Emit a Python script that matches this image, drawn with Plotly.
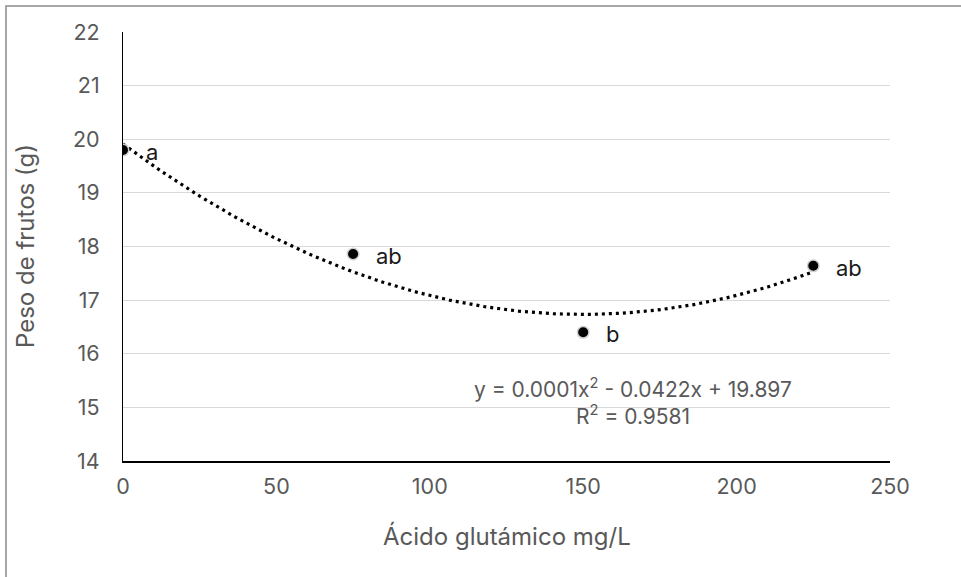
import numpy as np
import plotly.graph_objects as go

# Glutamic acid dose (mg/L) and mean fruit weight (g)
dose = [0, 75, 150, 225]
peso = [19.80, 17.86, 16.40, 17.64]
letras = ["a", "ab", "b", "ab"]

x_ticks = [0, 50, 100, 150, 200, 250]
y_ticks = [14, 15, 16, 17, 18, 19, 20, 21, 22]

ecuacion = "y = 0.0001x<sup>2</sup> - 0.0422x + 19.897"
r2_texto = "R<sup>2</sup> = 0.9581"

# Second-order polynomial trendline fitted to the means
coef = np.polyfit(dose, peso, 2)
xs = np.linspace(min(dose), max(dose), 200)
ys = np.polyval(coef, xs)

FONT = "Inter, 'Open Sans', sans-serif"
GRAY = "#595959"

# plot area in pixels
L, R, T, B = 123, 890, 32, 461
W, H = R - L, B - T

fig = go.Figure()
fig.add_trace(go.Scatter(
    x=xs, y=ys, mode="lines",
    line=dict(color="black", width=3.2, dash="3px,4px"),
    hoverinfo="skip", showlegend=False,
))
fig.add_trace(go.Scatter(
    x=dose, y=peso, mode="markers",
    marker=dict(color="black", size=11.5, line=dict(color="#cfcfcf", width=1.5)),
    showlegend=False,
))

for xv, yv, t in zip(dose, peso, letras):
    fig.add_annotation(
        x=xv, y=yv, text=t, showarrow=False,
        xanchor="left", yanchor="middle", xshift=21, yshift=-2,
        font=dict(family=FONT, size=22, color="#1a1a1a"),
    )

fig.add_annotation(
    x=(633 - L) / W, y=(B - 388) / H, xref="paper", yref="paper", text=ecuacion,
    showarrow=False, xanchor="center", yanchor="middle",
    font=dict(family=FONT, size=21, color=GRAY),
)
fig.add_annotation(
    x=(633 - L) / W, y=(B - 415) / H, xref="paper", yref="paper", text=r2_texto,
    showarrow=False, xanchor="center", yanchor="middle",
    font=dict(family=FONT, size=21, color=GRAY),
)

# axis titles
fig.add_annotation(
    x=0.5, y=(B - 536) / H, xref="paper", yref="paper", text="Ácido glutámico mg/L",
    showarrow=False, xanchor="center", yanchor="middle",
    font=dict(family=FONT, size=24, color=GRAY),
)
fig.add_annotation(
    x=(25 - L) / W, y=(B - 246) / H, xref="paper", yref="paper", text="Peso de frutos (g)",
    showarrow=False, xanchor="center", yanchor="middle", textangle=-90,
    font=dict(family=FONT, size=24, color=GRAY),
)

# Outer frame of the chart area
fig.add_shape(
    type="rect", xref="paper", yref="paper",
    x0=(6 - L) / W, x1=(975 - L) / W,
    y0=(B - 600) / H, y1=(B - 6) / H,
    line=dict(color="#8a8a8a", width=1.5), fillcolor="rgba(0,0,0,0)",
    layer="below",
)

fig.update_layout(
    width=961, height=577,
    margin=dict(l=L, r=961 - R, t=T, b=577 - B),
    paper_bgcolor="white", plot_bgcolor="white",
    font=dict(family=FONT, color=GRAY),
    xaxis=dict(
        range=[0, 250], tickvals=x_ticks, showgrid=False, zeroline=False,
        showline=True, linecolor="black", linewidth=2,
        ticks="", tickfont=dict(size=21.5, color=GRAY), ticklabelstandoff=5,
    ),
    yaxis=dict(
        range=[14, 22], tickvals=y_ticks, showgrid=True, gridcolor="#d9d9d9", gridwidth=1,
        zeroline=False, showline=True, linecolor="black", linewidth=1,
        ticks="", tickfont=dict(size=21.5, color=GRAY), ticklabelstandoff=18,
    ),
)

fig.write_html("out.html")
